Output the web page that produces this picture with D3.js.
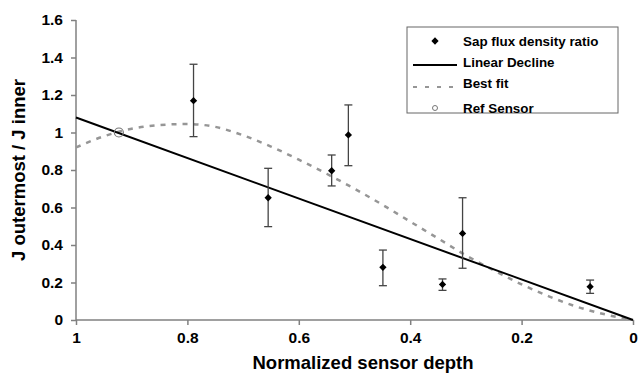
<!DOCTYPE html>
<html>
<head>
<meta charset="utf-8">
<script src="https://cdn.jsdelivr.net/npm/d3@7"></script>
<style>
  body { margin: 0; background: #fff; }
  text { font-family: "Liberation Sans", Arial, sans-serif; font-weight: bold; }
</style>
</head>
<body>
<div id="chart"></div>
<script>
// measured sap flux ratios
const depth = [0.789, 0.655, 0.541, 0.511, 0.449, 0.342, 0.306, 0.077];
const ratio = [1.17, 0.652, 0.796, 0.987, 0.281, 0.19, 0.462, 0.178];
const errLow = [0.978, 0.498, 0.715, 0.823, 0.183, 0.158, 0.276, 0.142];
const errHigh = [1.364, 0.809, 0.88, 1.147, 0.373, 0.219, 0.652, 0.213];

// linear decline end points
const linearX = [1, 0];
const linearY = [1.08, 0];

// best fit curve
const fitX = [1, 0.95, 0.9, 0.85, 0.8, 0.75, 0.7, 0.65, 0.6, 0.55, 0.5, 0.45, 0.4, 0.35, 0.3, 0.25, 0.2, 0.15, 0.1, 0.05, 0];
const fitY = [0.92, 0.98, 1.02, 1.04, 1.045, 1.03, 0.985, 0.925, 0.855, 0.78, 0.7, 0.615, 0.525, 0.435, 0.345, 0.265, 0.19, 0.125, 0.07, 0.03, 0];

const refSensor = { x: 0.923, y: 1.0 };

const xTicks = [1, 0.8, 0.6, 0.4, 0.2, 0];
const yTicks = [0, 0.2, 0.4, 0.6, 0.8, 1, 1.2, 1.4, 1.6];

const legendItems = ['Sap flux density ratio', 'Linear Decline', 'Best fit', 'Ref Sensor'];

const width = 639, height = 373;
const svg = d3.select('#chart').append('svg')
    .attr('width', width)
    .attr('height', height);

const x = d3.scaleLinear().domain([1, 0]).range([76, 633]);
const y = d3.scaleLinear().domain([0, 1.6]).range([320, 20]);

const axisColor = '#808080';

// axes
const yAxis = svg.append('g')
    .attr('transform', 'translate(76,0)')
    .call(d3.axisLeft(y).tickValues(yTicks).tickSize(5).tickPadding(8)
        .tickFormat(d => d3.format('')(+d.toFixed(1))));
const xAxis = svg.append('g')
    .attr('transform', 'translate(0,320)')
    .call(d3.axisBottom(x).tickValues(xTicks).tickSize(5).tickPadding(7)
        .tickFormat(d => d3.format('')(+d.toFixed(1))));

[xAxis, yAxis].forEach(a => {
    a.selectAll('path, line').attr('stroke', axisColor).attr('stroke-width', 1.5);
    a.selectAll('text').attr('fill', '#000').style('font-size', '15.5px');
});
xAxis.select('.domain').attr('d', 'M76,0H633');
yAxis.select('.domain').attr('d', 'M0,20V320');

// axis titles
svg.append('text')
    .attr('x', 363).attr('y', 369)
    .attr('text-anchor', 'middle')
    .style('font-size', '18.5px')
    .text('Normalized sensor depth');
svg.append('text')
    .attr('transform', 'translate(25,170) rotate(-90)')
    .attr('text-anchor', 'middle')
    .style('font-size', '18.5px')
    .text('J outermost / J inner');

// best fit dashed curve
const fitData = fitX.map((d, i) => [d, fitY[i]]);
svg.append('path')
    .datum(fitData)
    .attr('fill', 'none')
    .attr('stroke', '#969696')
    .attr('stroke-width', 2.5)
    .attr('stroke-dasharray', '5,6')
    .attr('d', d3.line().x(d => x(d[0])).y(d => y(d[1])).curve(d3.curveMonotoneX));

// linear decline
svg.append('path')
    .datum(linearX.map((d, i) => [d, linearY[i]]))
    .attr('fill', 'none')
    .attr('stroke', '#000')
    .attr('stroke-width', 2)
    .attr('d', d3.line().x(d => x(d[0])).y(d => y(d[1])));

// error bars
const pts = depth.map((d, i) => ({ x: d, y: ratio[i], lo: errLow[i], hi: errHigh[i] }));
const eb = svg.append('g').attr('stroke', '#444').attr('stroke-width', 1.3);
eb.selectAll('line.v').data(pts).enter().append('line')
    .attr('x1', d => x(d.x)).attr('x2', d => x(d.x))
    .attr('y1', d => y(d.lo)).attr('y2', d => y(d.hi));
eb.selectAll('line.lo').data(pts).enter().append('line')
    .attr('x1', d => x(d.x) - 4).attr('x2', d => x(d.x) + 4)
    .attr('y1', d => y(d.lo)).attr('y2', d => y(d.lo));
eb.selectAll('line.hi').data(pts).enter().append('line')
    .attr('x1', d => x(d.x) - 4).attr('x2', d => x(d.x) + 4)
    .attr('y1', d => y(d.hi)).attr('y2', d => y(d.hi));

// diamond markers
const diamond = d3.symbol().type(d3.symbolDiamond2).size(34);
svg.selectAll('path.pt').data(pts).enter().append('path')
    .attr('transform', d => `translate(${x(d.x)},${y(d.y)})`)
    .attr('d', diamond)
    .attr('fill', '#000');

// ref sensor
svg.append('circle')
    .attr('cx', x(refSensor.x)).attr('cy', y(refSensor.y))
    .attr('r', 4.5)
    .attr('fill', 'none')
    .attr('stroke', '#777')
    .attr('stroke-width', 1.2);

// legend
const lg = svg.append('g');
lg.append('rect')
    .attr('x', 407).attr('y', 27)
    .attr('width', 211).attr('height', 86)
    .attr('fill', '#fff')
    .attr('stroke', '#666')
    .attr('stroke-width', 1);
const rowY = [41, 62, 83, 108];
lg.selectAll('text').data(legendItems).enter().append('text')
    .attr('x', 463).attr('y', (d, i) => rowY[i])
    .attr('dy', '0.35em')
    .style('font-size', '13.4px')
    .text(d => d);
lg.append('path')
    .attr('transform', `translate(435,${rowY[0]})`)
    .attr('d', diamond)
    .attr('fill', '#000');
lg.append('line')
    .attr('x1', 413).attr('x2', 457)
    .attr('y1', rowY[1] + 3).attr('y2', rowY[1] + 3)
    .attr('stroke', '#000').attr('stroke-width', 2);
lg.append('line')
    .attr('x1', 413).attr('x2', 457)
    .attr('y1', rowY[2] + 4).attr('y2', rowY[2] + 4)
    .attr('stroke', '#969696').attr('stroke-width', 2)
    .attr('stroke-dasharray', '4,8');
lg.append('circle')
    .attr('cx', 435).attr('cy', rowY[3])
    .attr('r', 2.5)
    .attr('fill', 'none')
    .attr('stroke', '#777');
</script>
</body>
</html>
